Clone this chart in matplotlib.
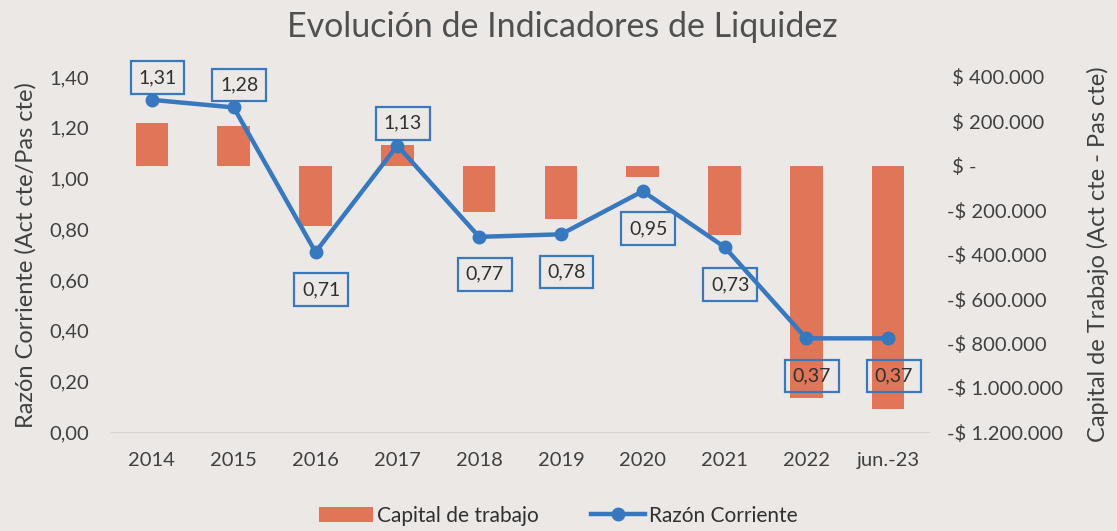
import matplotlib
matplotlib.use("Agg")
import matplotlib.pyplot as plt
from matplotlib.ticker import FuncFormatter, MultipleLocator

# datos
periodos = ["2014", "2015", "2016", "2017", "2018", "2019", "2020", "2021", "2022", "jun.-23"]
capital_trabajo = [195000, 180000, -270000, 95000, -210000, -240000, -50000, -310000, -1045000, -1095000]
razon_corriente = [1.31, 1.28, 0.71, 1.13, 0.77, 0.78, 0.95, 0.73, 0.37, 0.37]
etiqueta_pos = ["arriba", "arriba", "abajo", "arriba", "abajo", "abajo", "abajo", "abajo", "abajo", "abajo"]

fondo = "#ece8e6"
color_barra = "#e07558"
color_linea = "#3778bf"
color_texto = "#404040"

plt.rcParams["font.family"] = ["Lato", "DejaVu Sans"]

fig = plt.figure(figsize=(11.17, 5.31), dpi=100, facecolor=fondo)
ax = fig.add_axes([0.0994, 0.186, 0.7323, 0.669])
ax.set_facecolor("none")
ax2 = ax.twinx()
ax.set_zorder(ax2.get_zorder() + 1)

x = list(range(len(periodos)))

# barras en eje derecho
ax2.bar(x, capital_trabajo, width=0.4, color=color_barra, label="Capital de trabajo")
ax2.set_ylim(-1200000, 400000)
ax2.yaxis.set_major_locator(MultipleLocator(200000))


def formato_pesos(v, pos):
    # estilo contable: el signo menos queda colgando a la izquierda
    if abs(v) < 1:
        return " $ -"
    txt = "{:,.0f}".format(abs(v)).replace(",", ".")
    if v < 0:
        return "-$ " + txt
    return " $ " + txt


ax2.yaxis.set_major_formatter(FuncFormatter(formato_pesos))
ax2.tick_params(axis="y", length=0, pad=13, labelsize=14.5, labelcolor=color_texto)
for lbl in ax2.get_yticklabels():
    lbl.set_horizontalalignment("left")
ax2.set_ylabel("Capital de Trabajo (Act cte - Pas cte)", fontsize=17, color=color_texto, labelpad=17)

# linea en eje izquierdo
ax.plot(x, razon_corriente, color=color_linea, linewidth=3.2, marker="o", markersize=9,
        label="Razón Corriente")
ax.set_ylim(0, 1.4)
ax.yaxis.set_major_locator(MultipleLocator(0.2))
ax.yaxis.set_major_formatter(FuncFormatter(lambda v, p: "{:.2f}".format(v).replace(".", ",")))
ax.tick_params(axis="y", length=0, pad=16, labelsize=14.5, labelcolor=color_texto)
ax.set_ylabel("Razón Corriente (Act cte/Pas cte)", fontsize=17, color=color_texto, labelpad=9)

ax.set_xlim(-0.5, len(periodos) - 0.5)
ax.set_xticks(x)
ax.set_xticklabels(periodos)
ax.tick_params(axis="x", length=0, pad=14, labelsize=14.5, labelcolor=color_texto)

for a in (ax, ax2):
    for s in a.spines.values():
        s.set_visible(False)
ax2.spines["bottom"].set_visible(True)
ax2.spines["bottom"].set_color("#d6d2d0")

# etiquetas de datos con recuadro
for i, v in enumerate(razon_corriente):
    dy = 16 if etiqueta_pos[i] == "arriba" else -27
    ax.annotate("{:.2f}".format(v).replace(".", ","), (i, v), xytext=(4, dy),
                textcoords="offset points", ha="center", va="center", fontsize=14,
                color="#303030",
                bbox=dict(boxstyle="square,pad=0.4", facecolor="none",
                          edgecolor=color_linea, linewidth=1.6))

fig.suptitle("Evolución de Indicadores de Liquidez", x=0.503, y=0.98, fontsize=24.5,
             color="#505050")

h1, l1 = ax2.get_legend_handles_labels()
h2, l2 = ax.get_legend_handles_labels()
fig.legend(h1 + h2, l1 + l2, loc="lower center", bbox_to_anchor=(0.5, -0.025), ncol=2,
           frameon=False, fontsize=15, handlelength=2.6, columnspacing=2.5,
           handletextpad=0.2, labelcolor="#303030")

fig.savefig("out.png", dpi=100, facecolor=fondo)
